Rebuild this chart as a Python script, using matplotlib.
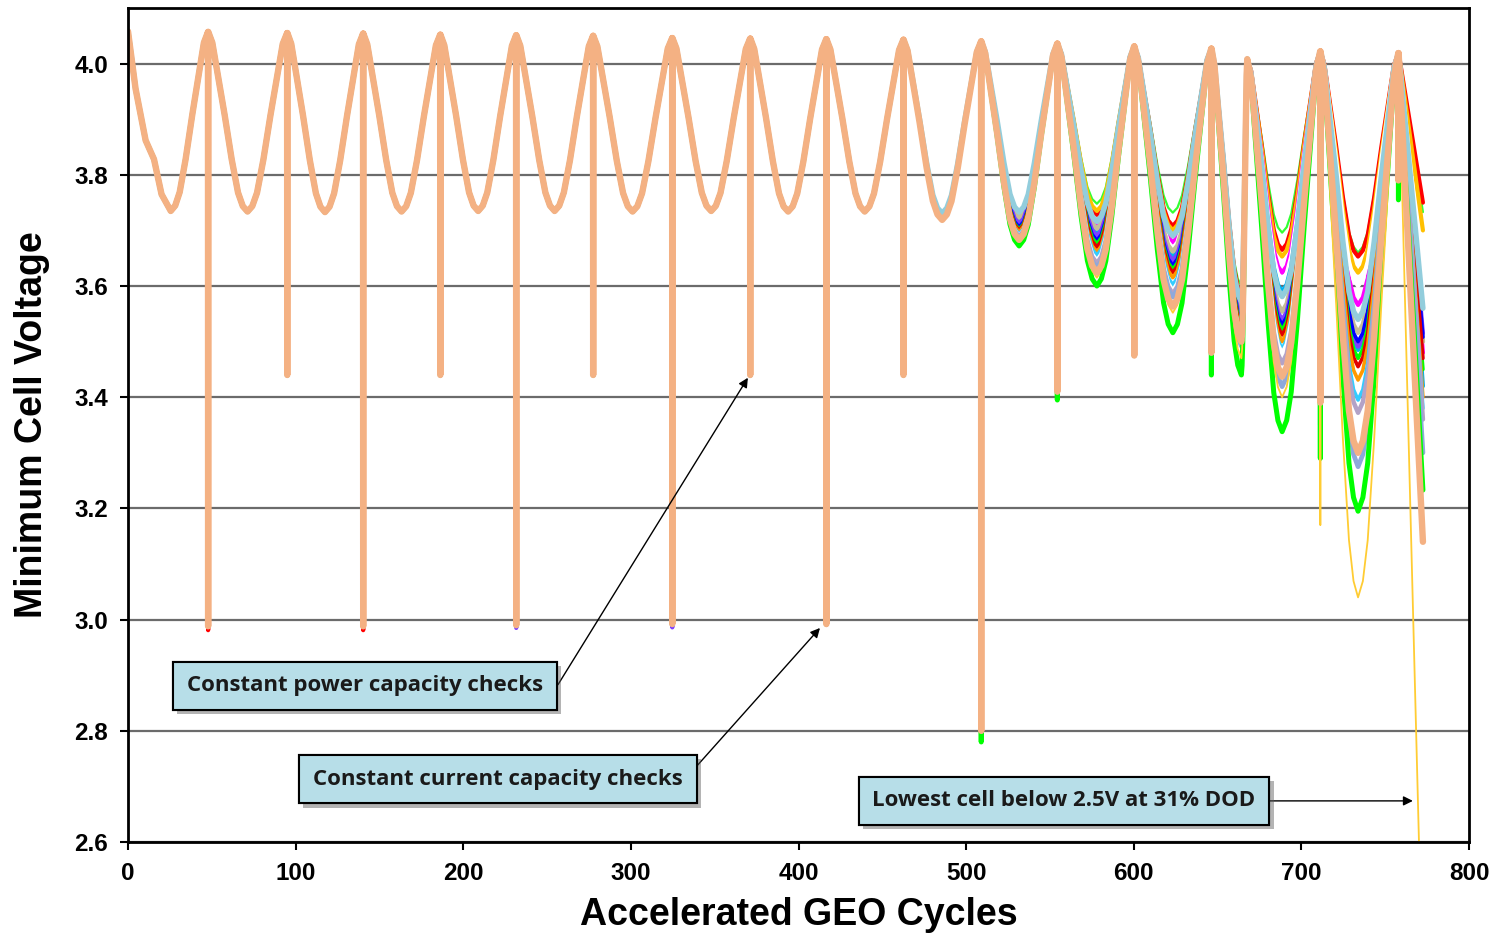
import matplotlib.pyplot as plt
from matplotlib import patheffects as pe

# season peaks (top of charge) and troughs (end of eclipse discharge)
peak_cyc = [0, 47.7, 94.9, 140.2, 186.2, 231.5, 277.4, 324.6, 371.1, 416.5,
            462.5, 508.9, 554.3, 600.2, 646.2, 667.7, 711.2, 757.8]
peak_v = [4.058, 4.057, 4.055, 4.054, 4.052, 4.051, 4.050, 4.046, 4.045, 4.044,
          4.043, 4.040, 4.036, 4.031, 4.027, 4.008, 4.022, 4.019]
# capacity-check spikes at each peak (None = no check)
spike_v = [None, 2.988, 3.440, 2.988, 3.440, 2.990, 3.440, 2.992, 3.440, 2.992,
           3.440, 2.800, 3.410, 3.475, 3.480, None, 3.450, 3.790]
trough_cyc = [25.5, 71.3, 117.5, 163.2, 208.9, 254.5, 301.0, 347.9, 393.8,
              439.5, 485.7, 531.6, 578.0, 623.3, 664.2, 688.5, 733.8]
# seasons 0-9, same for every cell
early_trough_v = [3.735, 3.734, 3.733, 3.734, 3.735, 3.735, 3.734, 3.735, 3.734, 3.734]

# first discharge starts from the beginning of test
start_cyc = [0, 4.5, 10.5, 15.5, 20.0]
start_v = [4.058, 3.955, 3.862, 3.828, 3.765]

# shape of one half season: distance from trough (fraction) -> rise (fraction)
prof_d = [1.0, 0.89, 0.75, 0.58, 0.40, 0.24, 0.12, 0.0]
prof_f = [1.0, 0.94, 0.76, 0.54, 0.29, 0.105, 0.03, 0.0]

cell_names = ['greenhi', 'red', 'orange', 'magenta', 'white', 'cyan', 'khaki', 'purple',
              'blue', 'greenmid', 'red2', 'orange2', 'cyan2', 'white2', 'lavender',
              'grayblue', 'greenlow', 'yellow', 'lightblue', 'peach']
cell_colors = ['#33FF33', '#FF0000', '#FFC000', '#FF00FF', '#FFFFFF', '#00B0F0', '#C4BD97',
               '#7F3FFF', '#0000FF', '#00FF00', '#E00000', '#FF9900', '#33CCFF', '#FFFFFF',
               '#B3A2C7', '#8EA9DB', '#00FF00', '#FFCC33', '#92CDDC', '#F4B183']
cell_lw = [1.6, 3.0, 3.0, 3.0, 3.0, 3.0, 3.2, 3.0, 2.6, 2.6, 2.6, 2.6, 2.6, 3.0,
           3.2, 3.4, 3.6, 1.3, 3.9, 4.6]

# troughs for seasons 10..16 (last one at ~734), per cell
late_troughs = [
    [3.730, 3.735, 3.748, 3.732, 3.600, 3.696, 3.660],
    [3.728, 3.728, 3.728, 3.708, 3.585, 3.665, 3.653],
    [3.728, 3.726, 3.735, 3.700, 3.578, 3.653, 3.624],
    [3.727, 3.720, 3.712, 3.678, 3.565, 3.624, 3.566],
    [3.728, 3.721, 3.702, 3.668, 3.558, 3.610, 3.600],
    [3.727, 3.716, 3.695, 3.655, 3.552, 3.590, 3.485],
    [3.728, 3.723, 3.703, 3.662, 3.553, 3.554, 3.516],
    [3.727, 3.712, 3.690, 3.646, 3.545, 3.539, 3.491],
    [3.726, 3.706, 3.682, 3.637, 3.538, 3.530, 3.500],
    [3.726, 3.702, 3.676, 3.630, 3.532, 3.521, 3.470],
    [3.726, 3.700, 3.670, 3.624, 3.527, 3.512, 3.455],
    [3.725, 3.697, 3.661, 3.615, 3.521, 3.500, 3.431],
    [3.725, 3.693, 3.655, 3.602, 3.516, 3.487, 3.395],
    [3.725, 3.690, 3.646, 3.592, 3.511, 3.479, 3.340],
    [3.724, 3.689, 3.641, 3.586, 3.505, 3.461, 3.372],
    [3.724, 3.686, 3.633, 3.580, 3.492, 3.419, 3.275],
    [3.721, 3.672, 3.600, 3.516, 3.440, 3.338, 3.195],
    [3.723, 3.680, 3.615, 3.552, 3.470, 3.400, 3.040],
    [3.731, 3.733, 3.716, 3.690, 3.572, 3.581, 3.540],
    [3.719, 3.683, 3.624, 3.563, 3.500, 3.437, 3.300],
]
# last point of each cell (test stopped mid-discharge)
end_cyc = [772.5] * 17 + [771.0, 772.5, 772.5]
end_v = [3.733, 3.750, 3.700, 3.480, 3.600, 3.420, 3.500, 3.515, 3.508, 3.450,
         3.470, 3.400, 3.380, 3.300, 3.360, 3.300, 3.233, 2.500, 3.560, 3.140]

# cells whose capacity-check spike goes lower than the rest
spike_override = {
    'red': {1: 2.981, 3: 2.981},
    'purple': {5: 2.985, 7: 2.986},
    'greenlow': {11: 2.780, 12: 3.395, 14: 3.440, 16: 3.290, 17: 3.755},
    'grayblue': {14: 3.465, 16: 3.350},
    'yellow': {16: 3.170},
    'peach': {16: 3.390},
}


def build_series(k):
    troughs = early_trough_v + late_troughs[k]
    over = spike_override.get(cell_names[k], {})
    xs, ys = list(start_cyc), list(start_v)
    for s in range(len(trough_cyc)):
        p0, p1 = peak_cyc[s], peak_cyc[s + 1]
        v0, v1 = peak_v[s], peak_v[s + 1]
        tc, tv = trough_cyc[s], troughs[s]
        if s == 0:
            xs.append(tc)
            ys.append(tv)
        else:
            for d, f in zip(prof_d[1:], prof_f[1:]):
                xs.append(tc - d * (tc - p0))
                ys.append(tv + f * (v0 - tv))
        for d, f in zip(prof_d[::-1][1:], prof_f[::-1][1:]):
            xs.append(tc + d * (p1 - tc))
            ys.append(tv + f * (v1 - tv))
        sp = over.get(s + 1, spike_v[s + 1])
        if sp is not None:
            xs += [p1 + 0.1, p1 + 0.2]
            ys += [sp, v1]
    xs.append(end_cyc[k])
    ys.append(end_v[k])
    return xs, ys


plt.rcParams['font.family'] = ['Liberation Sans', 'DejaVu Sans']

fig = plt.figure(figsize=(14.99, 9.33), dpi=100)
ax = fig.add_axes([0.0854, 0.0975, 0.8946, 0.8939])

for k in range(len(cell_names)):
    xs, ys = build_series(k)
    ax.plot(xs, ys, color=cell_colors[k], lw=cell_lw[k],
            solid_joinstyle='round', solid_capstyle='round')

ax.set_xlim(0, 800)
ax.set_ylim(2.6, 4.1)
ax.set_xticks(range(0, 801, 100))
ax.set_yticks([2.6, 2.8, 3.0, 3.2, 3.4, 3.6, 3.8, 4.0])
ax.set_yticklabels(['2.6', '2.8', '3.0', '3.2', '3.4', '3.6', '3.8', '4.0'])
ax.yaxis.grid(True, color='#6b6b6b', lw=1.6)
ax.set_axisbelow(True)
ax.tick_params(axis='both', direction='out', length=5.5, width=1.5, labelsize=17.5, pad=9)
for lab in ax.get_xticklabels() + ax.get_yticklabels():
    lab.set_fontweight('bold')
for sp in ax.spines.values():
    sp.set_linewidth(2)
    sp.set_color('black')

ax.set_xlabel('Accelerated GEO Cycles', fontsize=27, fontweight='bold')
ax.set_ylabel('Minimum Cell Voltage', fontsize=27, fontweight='bold')
ax.xaxis.set_label_coords(0.5, -0.066)
ax.yaxis.set_label_coords(-0.058, 0.5)

box_style = dict(boxstyle='square,pad=0.62', facecolor='#B7DEE8', edgecolor='black', lw=1.5)
notes = [
    ('Constant power capacity checks', 141.4, 2.881),
    ('Constant current capacity checks', 220.7, 2.713),
    ('Lowest cell below 2.5V at 31% DOD', 558.4, 2.674),
]
for txt, nx, ny in notes:
    t = ax.text(nx, ny, txt, ha='center', va='center', fontsize=16, fontweight='bold',
                family=['Open Sans', 'DejaVu Sans'], color='#1a1a1a', bbox=box_style, zorder=5)
    t.get_bbox_patch().set_path_effects(
        [pe.withSimplePatchShadow(offset=(3, -3), shadow_rgbFace='0.35', alpha=0.45), pe.Normal()])

arrow_style = dict(arrowstyle='-|>', color='black', lw=1.0, mutation_scale=14,
                   shrinkA=0, shrinkB=0)
ax.annotate('', xy=(369.8, 3.435), xytext=(256.5, 2.883), arrowprops=arrow_style, zorder=4)
ax.annotate('', xy=(412.8, 2.985), xytext=(332.9, 2.715), arrowprops=arrow_style, zorder=4)
ax.annotate('', xy=(766.5, 2.674), xytext=(680.6, 2.674), arrowprops=arrow_style, zorder=4)

plt.savefig('out.png', dpi=100)
